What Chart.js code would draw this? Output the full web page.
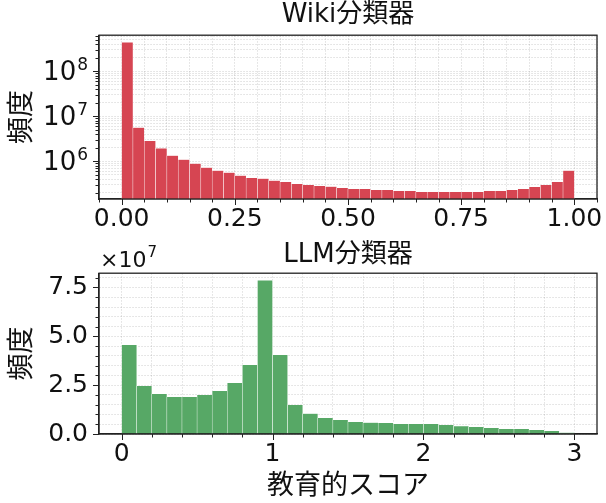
<!DOCTYPE html>
<html>
<head>
<meta charset="utf-8">
<script src="https://cdn.jsdelivr.net/npm/chart.js@4.4.0/dist/chart.umd.min.js"></script>
<style>
  html, body { margin: 0; padding: 0; background: #fff; }
  #wrap { position: relative; width: 606px; height: 503px; }
  #wikiBox { position: absolute; left: 0; top: 0; width: 606px; height: 240px; }
  #llmBox { position: absolute; left: 0; top: 240px; width: 606px; height: 263px; }
</style>
</head>
<body>
<div id="wrap">
  <div id="wikiBox"><canvas id="wikiChart"></canvas></div>
  <div id="llmBox"><canvas id="llmChart"></canvas></div>
</div>
<script>
// histogram counts
const wikiBinWidth = 0.025;
const wikiCounts = [4.4e8, 5.6e6, 2.85e6, 1.93e6, 1.34e6, 1.09e6, 8.9e5, 7.2e5, 6.2e5, 5.6e5,
  4.8e5, 4.3e5, 4.1e5, 3.7e5, 3.5e5, 3.15e5, 3.0e5, 2.85e5, 2.72e5, 2.56e5,
  2.44e5, 2.44e5, 2.31e5, 2.31e5, 2.2e5, 2.2e5, 2.09e5, 2.09e5, 2.09e5, 2.09e5,
  2.09e5, 2.09e5, 2.2e5, 2.2e5, 2.31e5, 2.44e5, 2.7e5, 3.0e5, 3.5e5, 6.2e5];
const llmBinWidth = 0.1;
const llmCounts = [4.56e7, 2.46e7, 2.06e7, 1.9e7, 1.9e7, 2.0e7, 2.21e7, 2.62e7, 3.54e7, 7.87e7,
  4.05e7, 1.49e7, 1.04e7, 0.83e7, 0.73e7, 0.62e7, 0.58e7, 0.57e7, 0.52e7, 0.52e7,
  0.52e7, 0.47e7, 0.41e7, 0.37e7, 0.32e7, 0.27e7, 0.27e7, 0.21e7, 0.16e7, 0.07e7];

// tick labels
const wikiXTicks = [0, 0.25, 0.5, 0.75, 1];
const wikiYTicks = [1e6, 1e7, 1e8];
const llmXTicks = [0, 1, 2, 3];
const llmYTicks = [0, 2.5e7, 5e7, 7.5e7];

const FONT = "'DejaVu Sans', 'Noto Sans CJK JP', sans-serif";
const gridColor = 'rgba(0,0,0,0.13)';

function isIn(list, v) {
  return list.some(t => Math.abs(t - v) < Math.abs(t) * 1e-6 + 1e-9);
}

// frame round the plot area, tick marks, power-of-ten labels and the x10^7 offset text
const framePlugin = {
  id: 'frame',
  afterDraw(chart) {
    const {ctx, chartArea: a} = chart;
    const xs = chart.scales.x, ys = chart.scales.y;
    ctx.save();
    ctx.strokeStyle = '#222';
    ctx.lineWidth = 1.3;
    ctx.strokeRect(a.left, a.top, a.right - a.left, a.bottom - a.top);
    ctx.lineWidth = 1;
    xs.ticks.forEach(t => {
      const px = Math.round(xs.getPixelForValue(t.value)) + 0.5;
      const len = t.major ? 6 : 3.5;
      ctx.beginPath(); ctx.moveTo(px, a.bottom); ctx.lineTo(px, a.bottom + len); ctx.stroke();
    });
    ys.ticks.forEach(t => {
      const py = Math.round(ys.getPixelForValue(t.value)) + 0.5;
      const len = t.major ? 6 : 3.5;
      ctx.beginPath(); ctx.moveTo(a.left, py); ctx.lineTo(a.left - len, py); ctx.stroke();
    });
    ctx.fillStyle = '#111';
    ctx.textBaseline = 'alphabetic';
    if (chart.options.powerLabels) {
      chart.options.powerLabels.forEach(v => {
        const py = ys.getPixelForValue(v);
        const exp = String(Math.round(Math.log10(v)));
        ctx.font = '17px ' + FONT;
        const ew = ctx.measureText(exp).width;
        ctx.textAlign = 'right';
        ctx.fillText(exp, a.left - 11, py - 1);
        ctx.font = '26px ' + FONT;
        ctx.fillText('10', a.left - 11 - ew - 1, py + 9);
      });
      ctx.textAlign = 'left';
    }
    if (chart.options.offsetText) {
      ctx.font = '22px ' + FONT;
      ctx.fillText('×10', a.left + 1, a.top - 6);
      const w = ctx.measureText('×10').width;
      ctx.font = '15px ' + FONT;
      ctx.fillText(chart.options.offsetText, a.left + 2 + w, a.top - 16);
    }
    ctx.restore();
  }
};

function xAxis(min, max, step, majors, fmt, height, title) {
  return {
    type: 'linear', min: min, max: max, offset: false,
    grid: { color: gridColor, lineWidth: 1, drawTicks: false, offset: false },
    border: { display: true, color: '#222', width: 1.3, dash: [1.5, 1.5] },
    afterBuildTicks(scale) {
      const ticks = [];
      const n = Math.round((max - min) / step);
      for (let i = 0; i <= n + 1; i++) {
        const v = Math.round((Math.ceil(min / step) + i) * step * 1e6) / 1e6;
        if (v >= min && v <= max) ticks.push({ value: v, major: isIn(majors, v) });
      }
      scale.ticks = ticks;
    },
    afterFit(scale) { scale.height = height; },
    ticks: {
      autoSkip: false, maxRotation: 0, minRotation: 0, padding: 5,
      color: '#111', font: { family: FONT, size: 25 },
      callback: v => isIn(majors, v) ? fmt(v) : ''
    },
    title: title ? { display: true, text: title, color: '#111',
      font: { family: FONT, size: 27 }, padding: { top: -2, bottom: 0 } } : { display: false }
  };
}

function yTitle() {
  return { display: true, text: '頻度', color: '#111',
    font: { family: FONT, size: 27 }, padding: { top: 7, bottom: 0 } };
}

// ---------- Wiki classifier (log scale) ----------
const wikiMin = 1.45e5, wikiMax = 6.3e8;
new Chart(document.getElementById('wikiChart'), {
  type: 'bar',
  data: {
    datasets: [{
      data: wikiCounts.map((c, i) => ({ x: (i + 0.5) * wikiBinWidth, y: c })),
      backgroundColor: '#d64552',
      borderColor: '#ffffff',
      borderWidth: 0.5,
      borderSkipped: 'start',
      barPercentage: 1, categoryPercentage: 1
    }]
  },
  options: {
    responsive: true, maintainAspectRatio: false, animation: false,
    powerLabels: wikiYTicks,
    layout: { padding: { left: 0, right: 9, top: 0, bottom: 0 } },
    plugins: {
      legend: { display: false }, tooltip: { enabled: false },
      title: { display: true, text: 'Wiki分類器', color: '#111', fullSize: false,
        font: { family: FONT, size: 26, weight: 'normal' }, padding: { top: 0, bottom: 4 } }
    },
    scales: {
      x: xAxis(-0.05, 1.05, 0.05, wikiXTicks, v => v.toFixed(2), 41, null),
      y: {
        type: 'logarithmic', min: wikiMin, max: wikiMax,
        grid: { color: gridColor, lineWidth: 1, drawTicks: false },
        border: { display: true, color: '#222', width: 1.3, dash: [1.5, 1.5] },
        afterBuildTicks(scale) {
          const ticks = [];
          for (let e = 5; e <= 8; e++) {
            for (let m = 1; m <= 9; m++) {
              const v = m * Math.pow(10, e);
              if (v >= wikiMin && v <= wikiMax) ticks.push({ value: v, major: m === 1 });
            }
          }
          scale.ticks = ticks;
        },
        afterFit(scale) { scale.width = 99; },
        ticks: {
          autoSkip: false, padding: 11, color: '#111',
          font: { family: FONT, size: 25 },
          callback: () => ''   // drawn with superscripts by the frame plugin
        },
        title: yTitle()
      }
    }
  },
  plugins: [framePlugin]
});

// ---------- LLM classifier (linear scale) ----------
new Chart(document.getElementById('llmChart'), {
  type: 'bar',
  data: {
    datasets: [{
      data: llmCounts.map((c, i) => ({ x: (i + 0.5) * llmBinWidth, y: c })),
      backgroundColor: '#57a866',
      borderColor: '#ffffff',
      borderWidth: 0.5,
      borderSkipped: 'start',
      barPercentage: 1, categoryPercentage: 1
    }]
  },
  options: {
    responsive: true, maintainAspectRatio: false, animation: false,
    offsetText: '7',
    layout: { padding: { left: 0, right: 9, top: 0, bottom: 0 } },
    plugins: {
      legend: { display: false }, tooltip: { enabled: false },
      title: { display: true, text: 'LLM分類器', color: '#111', fullSize: false,
        font: { family: FONT, size: 26, weight: 'normal' }, padding: { top: 0, bottom: 2 } }
    },
    scales: {
      x: xAxis(-0.15, 3.15, 0.2, llmXTicks, v => String(Math.round(v)), 69, '教育的スコア'),
      y: {
        type: 'linear', min: 0, max: 8.23e7,
        grid: { color: gridColor, lineWidth: 1, drawTicks: false },
        border: { display: true, color: '#222', width: 1.3, dash: [1.5, 1.5] },
        afterBuildTicks(scale) {
          const ticks = [];
          for (let i = 0; i * 0.5e7 <= 8.23e7; i++) {
            ticks.push({ value: i * 0.5e7, major: i % 5 === 0 });
          }
          scale.ticks = ticks;
        },
        afterFit(scale) { scale.width = 99; },
        ticks: {
          autoSkip: false, padding: 11, color: '#111',
          font: { family: FONT, size: 25 },
          callback: v => isIn(llmYTicks, v) ? (v / 1e7).toFixed(1) : ''
        },
        title: yTitle()
      }
    }
  },
  plugins: [framePlugin]
});
</script>
</body>
</html>
